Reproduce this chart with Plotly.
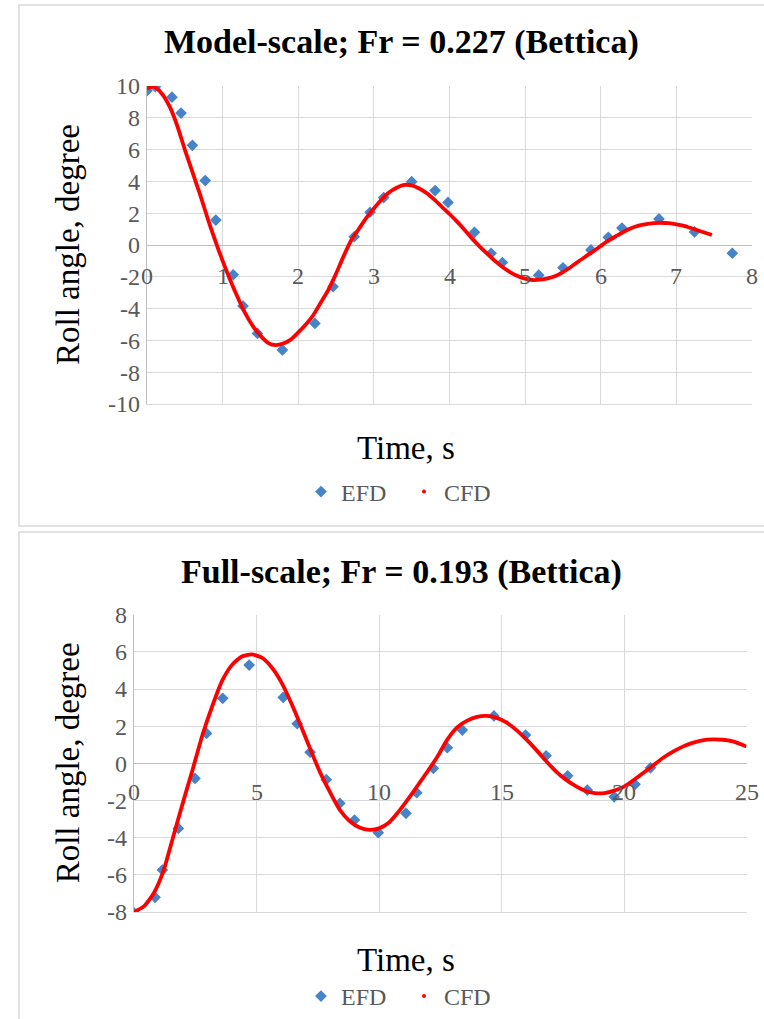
import plotly.graph_objects as go

W, H = 764, 1019

# ---------------- data: model scale ----------------
top_title = "Model-scale; Fr = 0.227 (Bettica)"
top_efd_t = [0.0, 0.11, 0.33, 0.45, 0.6, 0.77, 0.91, 1.14, 1.27, 1.46, 1.79, 2.22, 2.46,
             2.74, 2.95, 3.13, 3.5, 3.81, 3.98, 4.33, 4.55, 4.70, 5.18, 5.50, 5.87, 6.10,
             6.28, 6.77, 7.24, 7.74]
top_efd_v = [9.7, 9.96, 9.3, 8.3, 6.27, 4.05, 1.57, -1.87, -3.84, -5.56, -6.6, -4.93, -2.62,
             0.52, 2.06, 2.98, 3.98, 3.42, 2.68, 0.8, -0.52, -1.1, -1.9, -1.43, -0.31, 0.48,
             1.07, 1.64, 0.82, -0.52]
top_cfd_t = [0.0, 0.1, 0.2, 0.3, 0.4, 0.5, 0.6, 0.7, 0.8, 0.9, 1.0, 1.1, 1.2, 1.3, 1.4, 1.5,
             1.6, 1.7, 1.8, 1.9, 2.0, 2.1, 2.2, 2.3, 2.4, 2.5, 2.6, 2.7, 2.8, 2.9, 3.0, 3.1,
             3.2, 3.3, 3.4, 3.5, 3.6, 3.7, 3.8, 3.9, 4.0, 4.1, 4.2, 4.3, 4.4, 4.5, 4.6, 4.7,
             4.8, 4.9, 5.0, 5.1, 5.2, 5.3, 5.4, 5.5, 5.6, 5.7, 5.8, 5.9, 6.0, 6.1, 6.2, 6.3,
             6.4, 6.5, 6.6, 6.7, 6.8, 6.9, 7.0, 7.1, 7.2, 7.3, 7.4, 7.47]
top_cfd_v = [9.85, 9.95, 9.5, 8.7, 7.5, 6.0, 4.6, 3.2, 1.7, 0.3, -1.0, -2.2, -3.3, -4.3, -5.1,
             -5.7, -6.15, -6.3, -6.2, -5.95, -5.5, -5.0, -4.4, -3.6, -2.8, -1.8, -0.7, 0.3,
             1.0, 1.7, 2.3, 2.85, 3.3, 3.6, 3.78, 3.75, 3.55, 3.25, 2.85, 2.4, 1.95, 1.47,
             0.95, 0.4, -0.1, -0.55, -1.0, -1.38, -1.7, -1.95, -2.12, -2.2, -2.18, -2.1,
             -1.95, -1.7, -1.4, -1.05, -0.72, -0.4, -0.06, 0.27, 0.55, 0.82, 1.05, 1.22,
             1.32, 1.38, 1.4, 1.37, 1.3, 1.2, 1.05, 0.9, 0.74, 0.63]
top_xticks = [0, 1, 2, 3, 4, 5, 6, 7, 8]
top_yticks = [-10, -8, -6, -4, -2, 0, 2, 4, 6, 8, 10]
top_ytick_labels = ["-10", "-8", "-6", "-4", "-2", "0", "2", "4", "6", "8", "10"]

# ---------------- data: full scale ----------------
bot_title = "Full-scale; Fr = 0.193 (Bettica)"
bot_efd_t = [0.0, 0.86, 1.16, 1.81, 2.49, 2.96, 3.62, 4.70, 6.09, 6.66, 7.19, 7.85, 8.4,
             9.0, 9.97, 11.1, 11.54, 12.22, 12.79, 13.4, 14.69, 15.98, 16.82, 17.7, 18.5,
             19.6, 20.45, 21.08]
bot_efd_v = [-8.04, -7.21, -5.74, -3.5, -0.81, 1.61, 3.5, 5.29, 3.55, 2.13, 0.6, -0.88,
             -2.15, -3.05, -3.73, -2.69, -1.58, -0.27, 0.84, 1.79, 2.55, 1.52, 0.41, -0.67,
             -1.44, -1.8, -1.13, -0.24]
bot_cfd_t = [0.0, 0.4, 0.8, 1.2, 1.6, 2.0, 2.4, 2.8, 3.2, 3.6, 4.0, 4.4, 4.8, 5.2, 5.6, 6.0,
             6.4, 6.8, 7.2, 7.6, 8.0, 8.4, 8.8, 9.2, 9.6, 10.0, 10.4, 10.8, 11.2, 11.6, 12.0,
             12.4, 12.8, 13.2, 13.6, 14.0, 14.4, 14.8, 15.2, 15.6, 16.0, 16.4, 16.8, 17.2,
             17.6, 18.0, 18.4, 18.8, 19.2, 19.6, 20.0, 20.4, 20.8, 21.2, 21.6, 22.0, 22.4,
             22.8, 23.2, 23.6, 24.0, 24.4, 24.8, 25.0]
bot_cfd_v = [-8.0, -7.7, -7.0, -5.8, -3.95, -2.1, -0.3, 1.55, 3.1, 4.45, 5.3, 5.75, 5.86,
             5.7, 5.2, 4.4, 3.3, 2.05, 0.75, -0.5, -1.55, -2.5, -3.1, -3.45, -3.58, -3.5,
             -3.2, -2.6, -1.9, -1.15, -0.4, 0.4, 1.3, 1.95, 2.3, 2.5, 2.55, 2.45, 2.2, 1.8,
             1.3, 0.75, 0.15, -0.4, -0.85, -1.2, -1.47, -1.6, -1.6, -1.47, -1.25, -0.9,
             -0.5, -0.1, 0.3, 0.63, 0.9, 1.1, 1.24, 1.29, 1.27, 1.2, 1.02, 0.9]
bot_xticks = [0, 5, 10, 15, 20, 25]
bot_yticks = [-8, -6, -4, -2, 0, 2, 4, 6, 8]
bot_ytick_labels = ["-8", "-6", "-4", "-2", "0", "2", "4", "6", "8"]

series_names = ["EFD", "CFD"]
x_title = "Time, s"
y_title = "Roll angle, degree"

# ---------------- styling ----------------
SERIF = "Liberation Serif"
BLUE = "#4683C9"
RED = "#FF0000"
GRID = "#D9D9D9"
AXIS = "#BFBFBF"
TICKC = "#595959"


def px(x):
    return x / W


def py(y):
    return 1 - y / H


fig = go.Figure()

panels = [
    dict(xa="x", ya="y", efd=(top_efd_t, top_efd_v), cfd=(top_cfd_t, top_cfd_v),
         legend="legend", xdom=(147, 752), ydom=(86, 404), xr=(0, 8), yr=(-10, 10),
         xt=top_xticks, yt=top_yticks, ytl=top_ytick_labels, title=top_title, title_y=42,
         xt_y=448, leg_y=492, frame=(5, 526), xshift=-16),
    dict(xa="x2", ya="y2", efd=(bot_efd_t, bot_efd_v), cfd=(bot_cfd_t, bot_cfd_v),
         legend="legend2", xdom=(134, 746.5), ydom=(614.7, 912), xr=(0, 25), yr=(-8, 8),
         xt=bot_xticks, yt=bot_yticks, ytl=bot_ytick_labels, title=bot_title, title_y=572,
         xt_y=960, leg_y=1000, frame=(532, 1030), xshift=-14),
]

annotations = []
shapes = []
layout = {}

for i, p in enumerate(panels):
    sfx = "" if i == 0 else "2"
    fig.add_trace(go.Scatter(x=p["efd"][0], y=p["efd"][1], mode="markers", name=series_names[0],
                             marker=dict(symbol="diamond", size=9, color=BLUE),
                             xaxis=p["xa"], yaxis=p["ya"], legend=p["legend"], showlegend=True))
    fig.add_trace(go.Scatter(x=p["cfd"][0], y=p["cfd"][1], mode="lines", name=series_names[1],
                             line=dict(color=RED, width=3.8, shape="spline", smoothing=0.6),
                             xaxis=p["xa"], yaxis=p["ya"], legend=p["legend"], showlegend=False))
    # legend proxy for CFD (small dot, as in the original legend)
    fig.add_trace(go.Scatter(x=[None], y=[None], mode="markers", name=series_names[1],
                             marker=dict(symbol="circle", size=4, color=RED),
                             xaxis=p["xa"], yaxis=p["ya"], legend=p["legend"], showlegend=True))

    layout["xaxis" + sfx] = dict(
        domain=[px(p["xdom"][0]), px(p["xdom"][1])], range=list(p["xr"]),
        anchor=p["ya"], tickvals=p["xt"], showticklabels=False, showgrid=True,
        gridcolor=GRID, gridwidth=1.3, zeroline=False, showline=True, linecolor=GRID,
        linewidth=1.3, ticks="", automargin=False,
    )
    layout["yaxis" + sfx] = dict(
        domain=[py(p["ydom"][1]), py(p["ydom"][0])], range=list(p["yr"]),
        anchor=p["xa"], tickvals=p["yt"], ticktext=p["ytl"], showgrid=True, gridcolor=GRID,
        gridwidth=1.3, zeroline=True, zerolinecolor=AXIS, zerolinewidth=1.3, showline=True,
        linecolor=AXIS, linewidth=1.3, ticks="", ticklabelstandoff=1, automargin=False,
        tickfont=dict(family=SERIF, size=24, color=TICKC),
    )
    # x tick labels sit just below the y = 0 axis line (Excel style)
    for t in p["xt"]:
        annotations.append(dict(x=t, y=0, xref=p["xa"], yref=p["ya"], text=str(t),
                                showarrow=False, yanchor="top", yshift=p["xshift"],
                                font=dict(family=SERIF, size=24, color=TICKC)))
    annotations.append(dict(x=px(401), y=py(p["title_y"]), xref="paper", yref="paper",
                            text="<b>" + p["title"] + "</b>", showarrow=False,
                            xanchor="center", yanchor="middle",
                            font=dict(family=SERIF, size=34, color="black")))
    annotations.append(dict(x=px(406), y=py(p["xt_y"]), xref="paper", yref="paper",
                            text=x_title, showarrow=False, xanchor="center", yanchor="middle",
                            font=dict(family=SERIF, size=33, color="black")))
    ymid = (p["ydom"][0] + p["ydom"][1]) / 2
    annotations.append(dict(x=px(68), y=py(ymid), xref="paper", yref="paper",
                            text=y_title, showarrow=False, textangle=-90,
                            xanchor="center", yanchor="middle",
                            font=dict(family=SERIF, size=33, color="black")))
    shapes.append(dict(type="rect", xref="paper", yref="paper", x0=px(19), x1=px(800),
                       y0=py(p["frame"][1]), y1=py(p["frame"][0]),
                       line=dict(color=GRID, width=1.5), fillcolor="rgba(0,0,0,0)", layer="below"))
    leg = dict(orientation="h", x=px(404), xanchor="center",
               font=dict(family=SERIF, size=24, color=TICKC),
               bgcolor="rgba(0,0,0,0)", itemsizing="trace", itemwidth=30,
               entrywidth=58, tracegroupgap=0)
    if i == 0:
        leg.update(y=py(p["leg_y"]), yanchor="middle")
    else:
        leg.update(y=0.0, yanchor="bottom")
    layout[p["legend"]] = leg

fig.update_layout(
    width=W, height=H, margin=dict(l=0, r=0, t=0, b=0, autoexpand=False),
    paper_bgcolor="white", plot_bgcolor="white",
    annotations=annotations, shapes=shapes, **layout,
)

fig.write_html("out.html", config={"displayModeBar": False},
               post_script="document.body.style.margin='0px';document.body.style.padding='0px';")
